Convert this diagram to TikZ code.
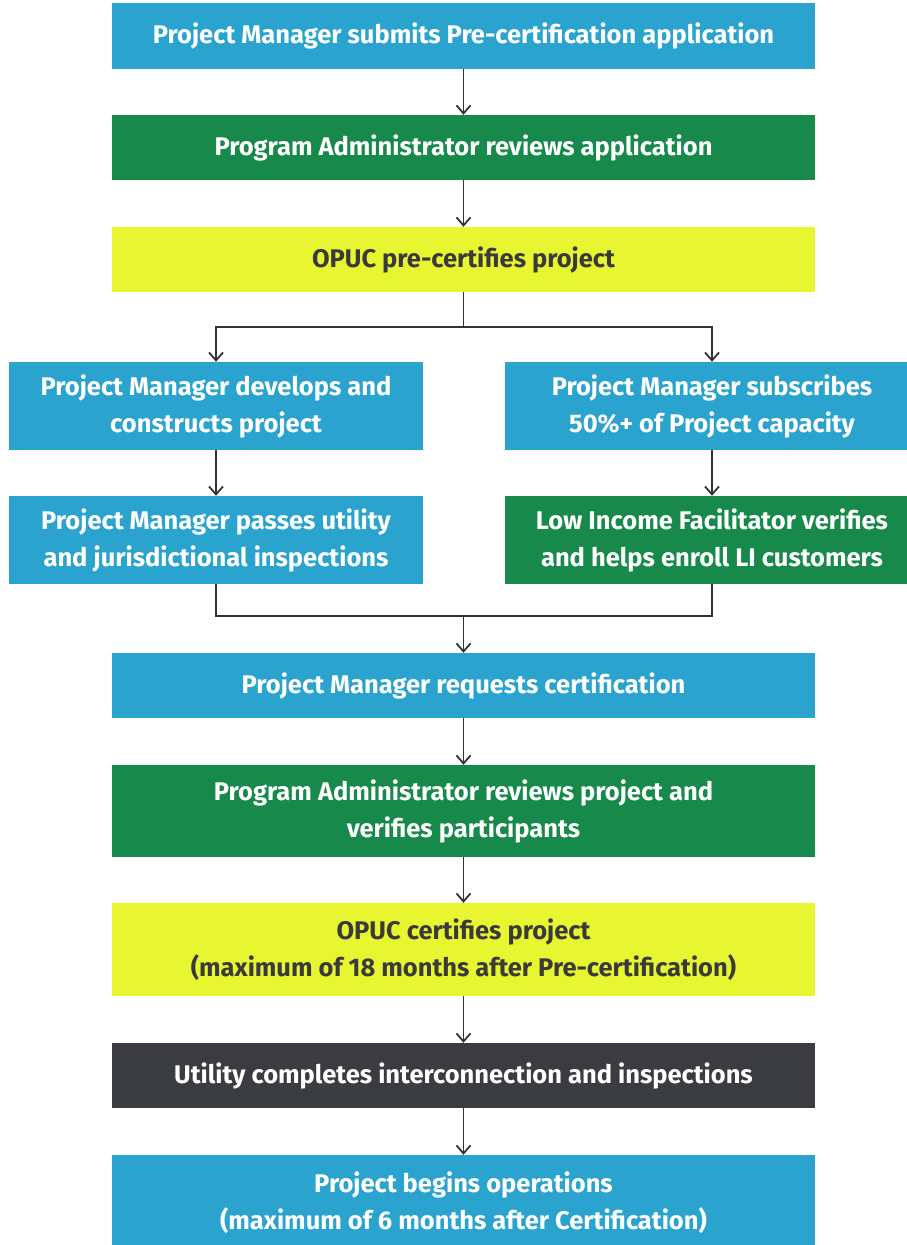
\documentclass[tikz,border=0pt]{standalone}
\usepackage{fontspec}
\setmainfont{Fira Sans}
\usetikzlibrary{arrows.meta}
\definecolor{cblue}{HTML}{2BA3CF}
\definecolor{cgreen}{HTML}{17894B}
\definecolor{cyellow}{HTML}{E8F531}
\definecolor{cdark}{HTML}{3B3C40}
\definecolor{cline}{HTML}{333333}
\definecolor{ctext}{HTML}{3A3A3A}
\tikzset{
  box/.style={rectangle, inner sep=0pt, align=center, font=\fontsize{25.5}{37}\selectfont\bfseries, text=white},
  wide/.style={box, minimum width=703pt},
  half/.style={box, minimum width=414pt},
  bluebox/.style={fill=cblue},
  greenbox/.style={fill=cgreen},
  yellowbox/.style={fill=cyellow, text=ctext},
  darkbox/.style={fill=cdark},
  conn/.style={draw=cline, line width=1.8pt},
  arr/.style={conn, -{Straight Barb[length=8pt,width=14pt,line width=1.8pt]}},
}
\begin{document}
\begin{tikzpicture}[x=1pt,y=-1pt]
\useasboundingbox (0,0) rectangle (906,1245);
\node[wide,bluebox,minimum height=66pt] (b1) at (463.5,36) {Project Manager submits Pre-certification application};
\node[wide,greenbox,minimum height=65pt] (b2) at (463.5,147.5) {Program Administrator reviews application};
\node[wide,yellowbox,minimum height=65pt] (b3) at (463.5,259.5) {OPUC pre-certifies project};
\node[half,bluebox,minimum height=88pt] (b4l) at (216,406) {Project Manager develops and\\constructs project};
\node[half,bluebox,minimum height=88pt] (b4r) at (712,406) {Project Manager subscribes\\50\%+ of Project capacity};
\node[half,bluebox,minimum height=88pt] (b5l) at (216,540) {Project Manager passes utility\\and jurisdictional inspections};
\node[half,greenbox,minimum height=88pt] (b5r) at (712,540) {Low Income Facilitator verifies\\and helps enroll LI customers};
\node[wide,bluebox,minimum height=65pt] (b6) at (463.5,685.5) {Project Manager requests certification};
\node[wide,greenbox,minimum height=92pt] (b7) at (463.5,811) {Program Administrator reviews project and\\verifies participants};
\node[wide,yellowbox,minimum height=93pt] (b8) at (463.5,949.5) {OPUC certifies project\\(maximum of 18 months after Pre-certification)};
\node[wide,darkbox,minimum height=65pt] (b9) at (463.5,1075.5) {Utility completes interconnection and inspections};
\node[wide,bluebox,minimum height=96pt] (b10) at (463.5,1203) {Project begins operations\\(maximum of 6 months after Certification)};
\coordinate (split) at (463.5,327);
\coordinate (merge) at (463.5,616);
\draw[arr] (b1) -- (b2);
\draw[arr] (b2) -- (b3);
\draw[conn] (b3.south) -- (split);
\draw[arr] (split) -| (b4l.north);
\draw[arr] (split) -| (b4r.north);
\draw[arr] (b4l) -- (b5l);
\draw[arr] (b4r) -- (b5r);
\draw[conn] (b5l.south) |- (merge);
\draw[conn] (b5r.south) |- (merge);
\draw[arr] (merge) -- (b6.north);
\draw[arr] (b6) -- (b7);
\draw[arr] (b7) -- (b8);
\draw[arr] (b8) -- (b9);
\draw[arr] (b9) -- (b10);
\end{tikzpicture}
\end{document}
